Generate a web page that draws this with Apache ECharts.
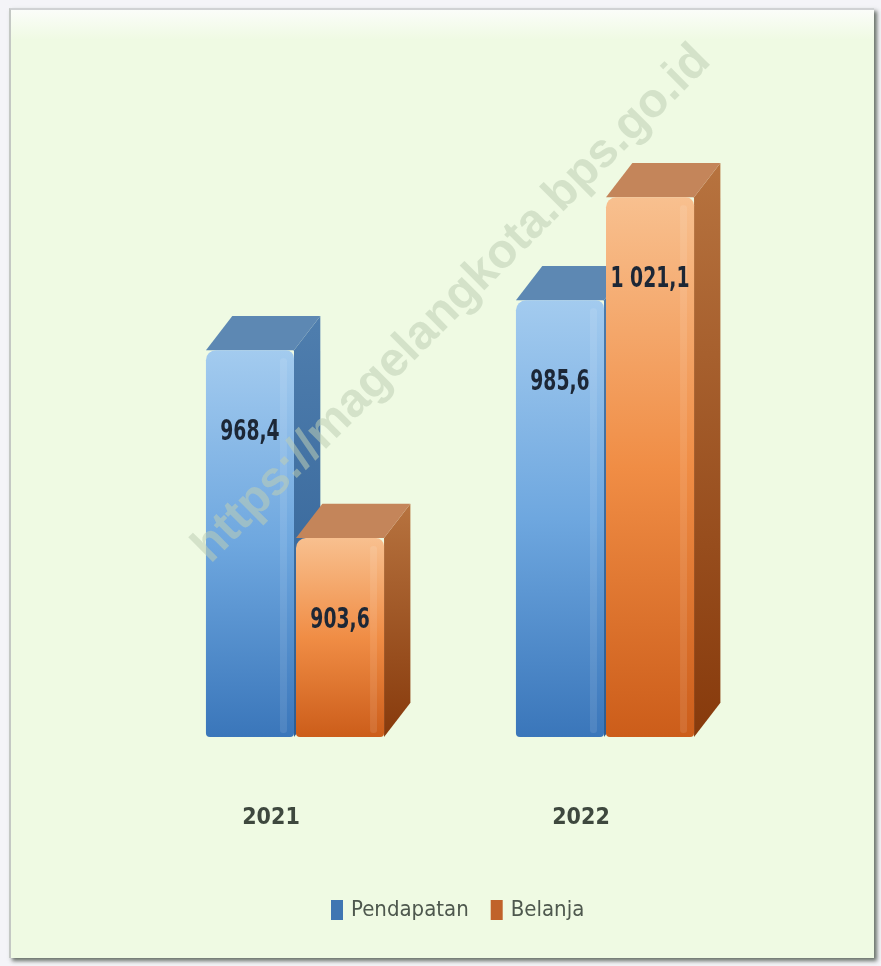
<!DOCTYPE html>
<html>
<head>
<meta charset="utf-8">
<script src="https://cdn.jsdelivr.net/npm/echarts@6/dist/echarts.min.js"></script>
<style>
html,body{margin:0;padding:0;width:881px;height:966px;background:#f4f4f8;overflow:hidden;}
#panel{position:absolute;left:9px;top:8px;width:863px;height:948px;
  background:linear-gradient(to bottom,#fbfdf9 0px,#effae3 30px,#effae3 100%);
  border-left:2px solid #c4c8c4;border-top:2px solid #d0d2d4;
  box-shadow:3px 3px 4px rgba(70,80,70,0.8);}
#main{position:absolute;left:0;top:0;width:881px;height:966px;}
</style>
</head>
<body>
<div id="panel"></div>
<div id="main"></div>
<script>
// ---- data ----
const categories = ['2021', '2022'];
const seriesNames = ['Pendapatan', 'Belanja'];
const pendapatan = [968.4, 985.6];
const belanja = [903.6, 1021.1];
const watermark = 'https://magelangkota.bps.go.id';

const AXIS_MIN = 835;
const AXIS_MAX = 1045;
const FONT = "'Liberation Sans Narrow','DejaVu Sans Condensed','Liberation Sans',sans-serif";

function fmt(v) {
  const parts = v.toFixed(1).split('.');
  return parts[0].replace(/\B(?=(\d{3})+(?!\d))/g, ' ') + ',' + parts[1];
}

const palettes = [
  { front: ['#a3cbef', '#6ea7df', '#3a76ba'], top: '#5d88b3', side: ['#4f7eae', '#2d5d92'], legend: '#3f76b2' },
  { front: ['#f8c08f', '#f08d45', '#cc5d1a'], top: '#c4855a', side: ['#b7733f', '#873a0c'], legend: '#c0622a' }
];

function makeRender(sIdx) {
  const pal = palettes[sIdx];
  return function (params, api) {
    const cat = api.value(0), val = api.value(1);
    const base = api.coord([cat, AXIS_MIN]);
    const top = api.coord([cat, val]);
    const band = api.size([1, 0])[0];
    const w = band * 0.284;
    const gap = band * 0.0065;
    const dx = band * 0.085;
    const dy = -dx * 1.3;
    const x0 = sIdx === 0 ? base[0] - gap / 2 - w : base[0] + gap / 2;
    const yt = top[1], yb = base[1];
    const h = yb - yt;
    return {
      type: 'group',
      children: [
        { type: 'polygon', shape: { points: [[x0 + w, yt], [x0 + w + dx, yt + dy], [x0 + w + dx, yb + dy], [x0 + w, yb]] },
          style: { fill: new echarts.graphic.LinearGradient(0, 0, 0, 1, [{ offset: 0, color: pal.side[0] }, { offset: 1, color: pal.side[1] }]) } },
        { type: 'polygon', shape: { points: [[x0, yt], [x0 + w, yt], [x0 + w + dx, yt + dy], [x0 + dx, yt + dy]] },
          style: { fill: pal.top } },
        { type: 'rect', shape: { x: x0, y: yt, width: w, height: h, r: [10, 8, 4, 4] },
          style: { fill: new echarts.graphic.LinearGradient(0, 0, 0, 1, [
            { offset: 0, color: pal.front[0] }, { offset: 0.5, color: pal.front[1] }, { offset: 1, color: pal.front[2] }]) } },
        { type: 'rect', shape: { x: x0 + w - 14, y: yt + 8, width: 7, height: h - 12, r: 3 },
          style: { fill: 'rgba(255,255,255,0.10)' } },
        { type: 'text', x: x0 + w / 2, y: yt + 82, scaleX: 0.72, scaleY: 1,
          style: { text: fmt(val), x: 0, y: 0, align: 'center', verticalAlign: 'middle',
            fill: '#1c2736', font: 'bold 29px ' + FONT } }
      ]
    };
  };
}

const chart = echarts.init(document.getElementById('main'), null, { renderer: 'canvas' });
chart.setOption({
  backgroundColor: 'transparent',
  animation: false,
  grid: { left: 140, right: 121, top: 128, bottom: 229 },
  xAxis: {
    type: 'category', data: categories,
    axisLine: { show: false }, axisTick: { show: false }, splitLine: { show: false },
    axisLabel: { margin: 70, color: '#3e483e', fontSize: 23, fontWeight: 'bold', fontFamily: FONT, padding: [0, 48, 0, 0] }
  },
  yAxis: { type: 'value', min: AXIS_MIN, max: AXIS_MAX, show: false },
  legend: {
    data: seriesNames, top: 894, left: 326, icon: 'rect', itemWidth: 12, itemHeight: 20, itemGap: 22,
    textStyle: { color: '#4e584e', fontSize: 22, fontFamily: FONT, padding: [0, 0, 0, 3] }
  },
  graphic: [{
    type: 'text', x: 452, y: 304, rotation: Math.PI / 4, z: 100,
    style: { text: watermark, align: 'center', verticalAlign: 'middle', font: 'bold 48px "Liberation Sans", Arial, sans-serif',
      fill: 'rgba(190,206,180,0.55)' }
  }],
  series: [
    { name: seriesNames[0], type: 'custom', renderItem: makeRender(0), itemStyle: { color: palettes[0].legend },
      encode: { x: 0, y: 1 }, data: pendapatan.map((v, i) => [i, v]) },
    { name: seriesNames[1], type: 'custom', renderItem: makeRender(1), itemStyle: { color: palettes[1].legend },
      encode: { x: 0, y: 1 }, data: belanja.map((v, i) => [i, v]) }
  ]
});
</script>
</body>
</html>
